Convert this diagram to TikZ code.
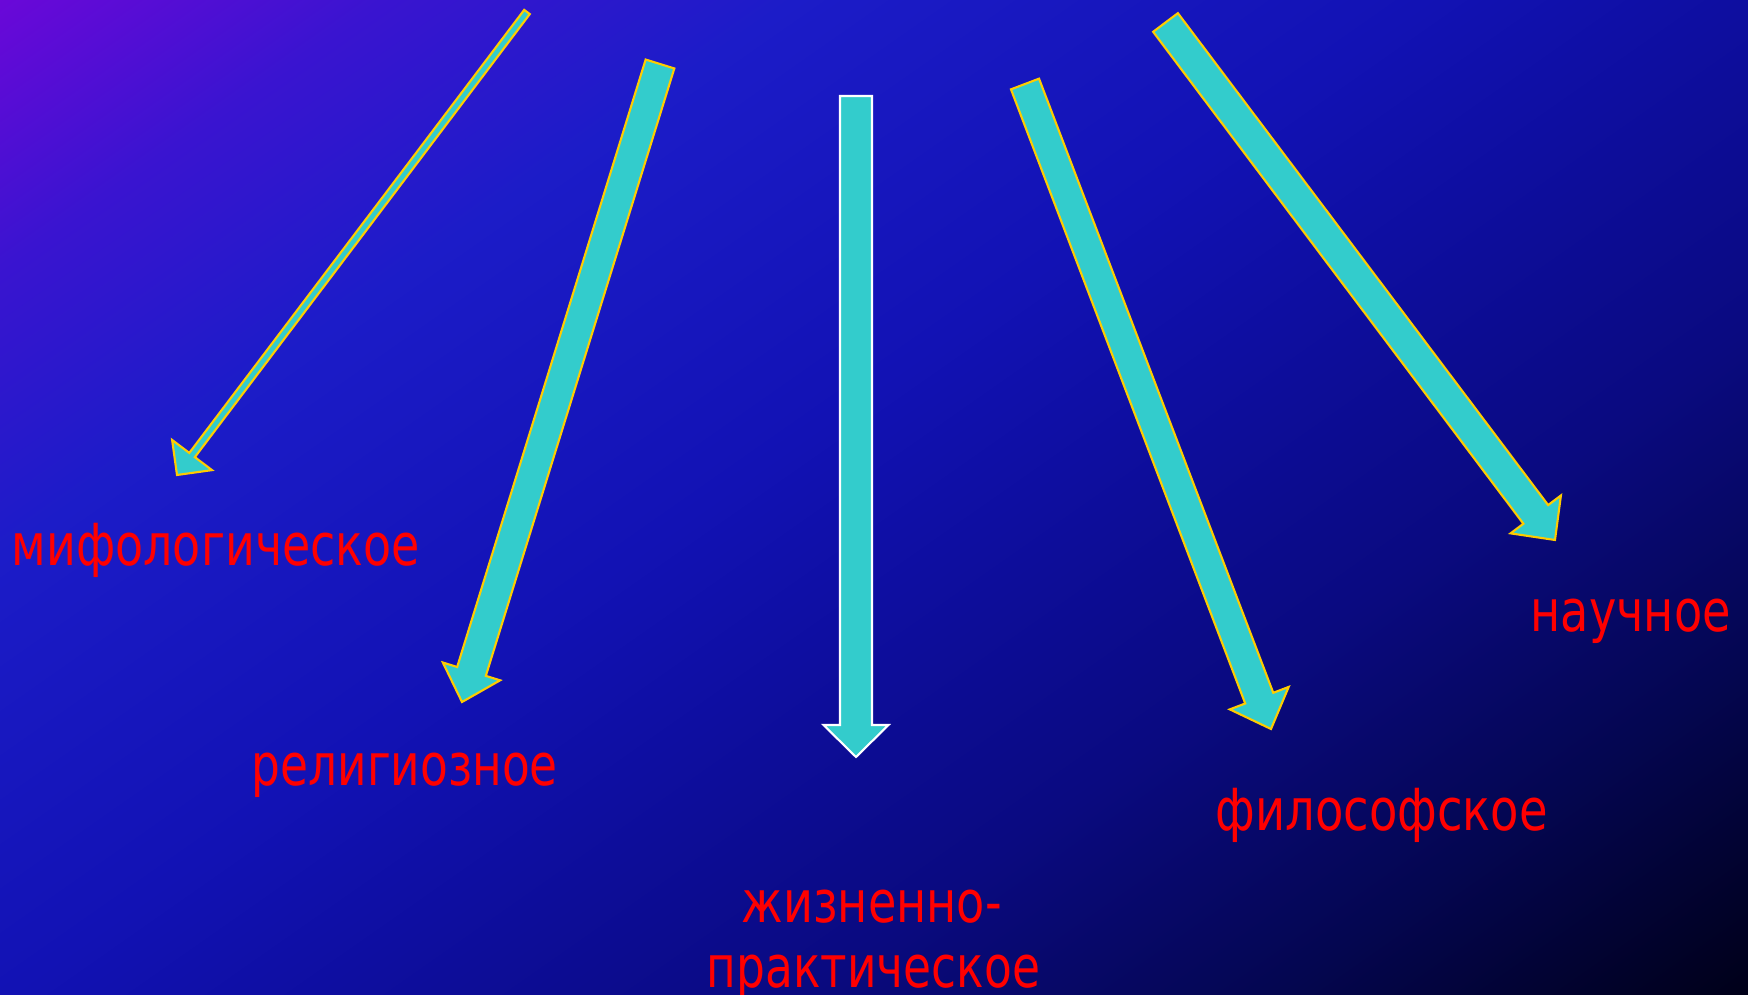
\documentclass[tikz,border=0pt]{standalone}
\usepackage{fontspec}
\usepackage{graphicx}
\setmainfont{DejaVu Sans}
\usetikzlibrary{calc}
\definecolor{bgA}{HTML}{6A08D8}
\definecolor{bgB}{HTML}{3A14D0}
\definecolor{bgC}{HTML}{1C1CC8}
\definecolor{bgD}{HTML}{1212B4}
\definecolor{bgE}{HTML}{0E0EA0}
\definecolor{bgF}{HTML}{0A0A80}
\definecolor{bgG}{HTML}{040650}
\definecolor{bgH}{HTML}{000018}
\definecolor{turq}{HTML}{33CCCC}
\definecolor{gold}{HTML}{FFCC00}
\definecolor{lbl}{HTML}{FF0000}
\pgfdeclarehorizontalshading{slidebg}{100bp}{color(0bp)=(bgA); color(25bp)=(bgA); color(31bp)=(bgB); color(37.5bp)=(bgC); color(47.5bp)=(bgD); color(52.5bp)=(bgE); color(60bp)=(bgF); color(67.5bp)=(bgG); color(75bp)=(bgH); color(100bp)=(bgH)}
\newcommand\blockarrow[6]{%
  \coordinate (hb) at ($(#3)!#6!(#2)$);
  \draw[#1] ($(#2)!#4!90:(#3)$) -- ($(hb)!#4!90:(#3)$) -- ($(hb)!#5!90:(#3)$) -- (#3)
    -- ($(hb)!#5!-90:(#3)$) -- ($(hb)!#4!-90:(#3)$) -- ($(#2)!#4!-90:(#3)$) -- cycle;
}
\begin{document}
\begin{tikzpicture}[x=0.01cm,y=-0.01cm,
  arrowgold/.style={fill=turq,draw=gold,line width=0.6pt,line join=miter},
  arrowwhite/.style={fill=turq,draw=white,line width=0.6pt,line join=miter},
  label/.style={anchor=base west,inner sep=0pt,text=lbl,font=\fontsize{16.5pt}{20pt}\selectfont}]
\useasboundingbox (0,0) rectangle (1748,995);
\begin{scope}
  \clip (0,0) rectangle (1748,995);
  \shade[shading=slidebg,transform canvas={rotate=-55}] (0,-2500) rectangle (1818,2500);
\end{scope}
% arrow end points
\coordinate (t1) at (527,12);     \coordinate (h1) at (177,475);
\coordinate (t2) at (660,64);     \coordinate (h2) at (462,702);
\coordinate (t3) at (856,96);     \coordinate (h3) at (856,757);
\coordinate (t4) at (1025,84);    \coordinate (h4) at (1271,729);
\coordinate (t5) at (1165.5,22.5);\coordinate (h5) at (1555,540);
\blockarrow{arrowgold}{t1}{h1}{0.035cm}{0.25cm}{0.25cm}
\blockarrow{arrowgold}{t2}{h2}{0.15cm}{0.30cm}{0.32cm}
\blockarrow{arrowwhite}{t3}{h3}{0.16cm}{0.325cm}{0.32cm}
\blockarrow{arrowgold}{t4}{h4}{0.15cm}{0.315cm}{0.33cm}
\blockarrow{arrowgold}{t5}{h5}{0.155cm}{0.315cm}{0.32cm}
% labels
\node[label] (myth) at (11,566) {\resizebox{4.08cm}{\height}{мифологическое}};
\node[label] (rel) at (251,786) {\resizebox{3.06cm}{\height}{религиозное}};
\node[label] (life1) at (741,923) {\resizebox{2.60cm}{\height}{жизненно-}};
\node[label] (life2) at (706,988) {\resizebox{3.33cm}{\height}{практическое}};
\node[label] (phil) at (1215,831) {\resizebox{3.32cm}{\height}{философское}};
\node[label] (sci) at (1530,632) {\resizebox{2.00cm}{\height}{научное}};
\end{tikzpicture}
\end{document}
